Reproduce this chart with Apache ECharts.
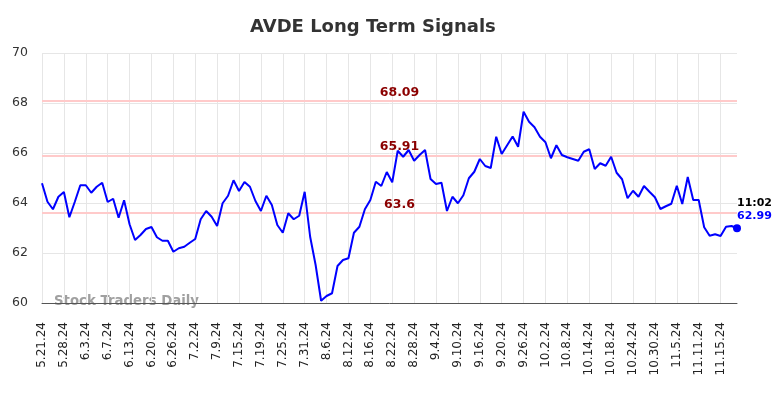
<!DOCTYPE html>
<html>
<head>
<meta charset="utf-8">
<title>AVDE Long Term Signals</title>
<script src="https://cdn.jsdelivr.net/npm/echarts@6/dist/echarts.min.js"></script>
<style>
  html, body { margin: 0; padding: 0; background: #fff; }
  #chart { width: 784px; height: 398px; }
</style>
</head>
<body>
<div id="chart"></div>
<script>
// trading days shown on the x axis
const dates = [
  '5.21.24', '5.22.24', '5.23.24', '5.24.24', '5.28.24', '5.29.24', '5.30.24', '5.31.24',
  '6.3.24', '6.4.24', '6.5.24', '6.6.24', '6.7.24', '6.10.24', '6.11.24', '6.12.24', '6.13.24', '6.14.24',
  '6.17.24', '6.18.24', '6.20.24', '6.21.24', '6.24.24', '6.25.24', '6.26.24', '6.27.24', '6.28.24',
  '7.1.24', '7.2.24', '7.3.24', '7.5.24', '7.8.24', '7.9.24', '7.10.24', '7.11.24', '7.12.24',
  '7.15.24', '7.16.24', '7.17.24', '7.18.24', '7.19.24', '7.22.24', '7.23.24', '7.24.24', '7.25.24', '7.26.24',
  '7.29.24', '7.30.24', '7.31.24', '8.1.24', '8.2.24', '8.5.24', '8.6.24', '8.7.24', '8.8.24', '8.9.24',
  '8.12.24', '8.13.24', '8.14.24', '8.15.24', '8.16.24', '8.19.24', '8.20.24', '8.21.24', '8.22.24', '8.23.24',
  '8.26.24', '8.27.24', '8.28.24', '8.29.24', '8.30.24', '9.3.24', '9.4.24', '9.5.24', '9.6.24',
  '9.9.24', '9.10.24', '9.11.24', '9.12.24', '9.13.24', '9.16.24', '9.17.24', '9.18.24', '9.19.24', '9.20.24',
  '9.23.24', '9.24.24', '9.25.24', '9.26.24', '9.27.24', '9.30.24', '10.1.24', '10.2.24', '10.3.24', '10.4.24',
  '10.7.24', '10.8.24', '10.9.24', '10.10.24', '10.11.24', '10.14.24', '10.15.24', '10.16.24', '10.17.24', '10.18.24',
  '10.21.24', '10.22.24', '10.23.24', '10.24.24', '10.25.24', '10.28.24', '10.29.24', '10.30.24', '10.31.24',
  '11.1.24', '11.4.24', '11.5.24', '11.6.24', '11.7.24', '11.8.24', '11.11.24', '11.12.24', '11.13.24', '11.14.24', '11.15.24',
  '11.18.24', '11.19.24', '11.20.24'
];

// closing prices
const prices = [
  64.79, 64.05, 63.75, 64.25, 64.44, 63.43, 64.05, 64.71, 64.71, 64.41,
  64.65, 64.81, 64.04, 64.17, 63.41, 64.11, 63.15, 62.52, 62.72, 62.96,
  63.04, 62.63, 62.49, 62.49, 62.05, 62.19, 62.25, 62.41, 62.56, 63.35,
  63.68, 63.45, 63.08, 63.99, 64.29, 64.91, 64.48, 64.84, 64.65, 64.08,
  63.68, 64.29, 63.92, 63.12, 62.81, 63.59, 63.35, 63.49, 64.45, 62.65,
  61.52, 60.09, 60.28, 60.39, 61.48, 61.72, 61.79, 62.81, 63.05, 63.75,
  64.12, 64.85, 64.68, 65.24, 64.83, 66.09, 65.85, 66.12, 65.69, 65.92,
  66.12, 64.96, 64.76, 64.81, 63.68, 64.25, 63.99, 64.31, 64.99, 65.25,
  65.76, 65.48, 65.40, 66.65, 65.96, 66.31, 66.66, 66.25, 67.65, 67.25,
  67.03, 66.65, 66.43, 65.79, 66.31, 65.92, 65.83, 65.76, 65.69, 66.05,
  66.15, 65.36, 65.59, 65.49, 65.85, 65.21, 64.95, 64.19, 64.49, 64.25,
  64.68, 64.45, 64.23, 63.76, 63.87, 63.97, 64.69, 63.96, 65.04, 64.12,
  64.12, 63.03, 62.69, 62.75, 62.68, 63.05, 63.08, 62.99
];

// signal levels
const signals = [68.09, 65.91, 63.6];
const lastTime = '11:02';

const yTicks = { min: 60, max: 70, step: 2 };

const chart = echarts.init(document.getElementById('chart'));
const lastIdx = prices.length - 1;

const option = {
  animation: false,
  textStyle: { fontFamily: 'DejaVu Sans' },
  title: {
    text: 'AVDE Long Term Signals',
    left: 250,
    top: 18,
    padding: 0,
    textStyle: { fontSize: 18, fontWeight: 'bold', color: '#333', fontFamily: 'DejaVu Sans' }
  },
  grid: { left: 42, right: 47, top: 53, bottom: 95 },
  xAxis: {
    type: 'category',
    data: dates,
    boundaryGap: false,
    axisLine: { lineStyle: { color: '#555', width: 1 } },
    axisTick: { show: false, interval: 3 },
    axisLabel: {
      interval: 3,
      rotate: 90,
      margin: 19,
      fontSize: 12,
      color: '#222',
      fontFamily: 'DejaVu Sans'
    },
    splitLine: { show: true, interval: 3, lineStyle: { color: '#e6e6e6', width: 1 } }
  },
  yAxis: {
    type: 'value',
    min: yTicks.min,
    max: yTicks.max,
    interval: yTicks.step,
    axisLine: { show: false },
    axisTick: { show: false },
    axisLabel: { fontSize: 12.5, color: '#333', margin: 14, fontFamily: 'DejaVu Sans' },
    splitLine: { lineStyle: { color: '#e6e6e6', width: 1 } }
  },
  graphic: [{
    type: 'text',
    left: 54,
    top: 295,
    style: {
      text: 'Stock Traders Daily',
      fill: '#a0a0a0',
      font: 'bold 13.3px "DejaVu Sans"'
    }
  }],
  series: [{
    type: 'line',
    data: prices,
    showSymbol: false,
    symbol: 'none',
    lineStyle: { color: '#0000ff', width: 2 },
    z: 3,
    markLine: {
      silent: true,
      symbol: 'none',
      z: 2,
      lineStyle: { color: '#ffcaca', width: 2, type: 'solid' },
      label: {
        position: 'insideMiddleTop',
        distance: 2,
        padding: [0, 0, 0, 20],
        color: '#8b0000',
        fontWeight: 'bold',
        fontSize: 12.5,
        fontFamily: 'DejaVu Sans',
        formatter: p => String(p.value)
      },
      data: signals.map(v => ({ yAxis: v }))
    },
    markPoint: {
      silent: true,
      symbol: 'circle',
      symbolSize: 8,
      itemStyle: { color: '#0000ff' },
      label: {
        show: true,
        position: [4, -28],
        align: 'left',
        verticalAlign: 'top',
        formatter: p => '{t|' + lastTime + '}\n{v|' + p.value + '}',
        rich: {
          t: { color: '#000', fontWeight: 'bold', fontSize: 11, lineHeight: 13, fontFamily: 'DejaVu Sans' },
          v: { color: '#0000ff', fontWeight: 'bold', fontSize: 11, lineHeight: 13, fontFamily: 'DejaVu Sans' }
        }
      },
      data: [{ coord: [dates[lastIdx], prices[lastIdx]], value: prices[lastIdx] }]
    }
  }]
};

chart.setOption(option);
window.addEventListener('resize', () => chart.resize());
</script>
</body>
</html>
